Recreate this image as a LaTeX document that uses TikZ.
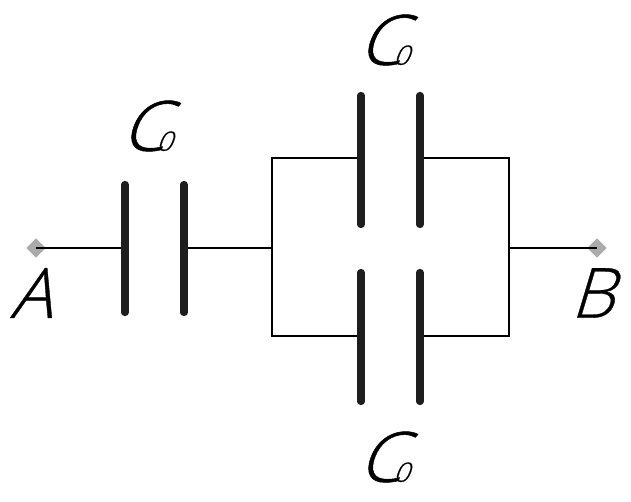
\documentclass[tikz,border=0pt]{standalone}
\usepackage{fontspec}
\usetikzlibrary{shapes.geometric}
\newfontfamily\lblfont[FakeSlant=0.3,FakeBold=0.5]{Open Sans Light}
\newfontfamily\capfont[FakeSlant=0.38,FakeStretch=1.05,FakeBold=0.7]{Open Sans Light}
\definecolor{plategray}{HTML}{1E1E1E}
\definecolor{termgray}{HTML}{ABABAB}
\tikzset{
  x=0.75pt,y=-0.75pt,
  wire/.style={line width=1.5pt,black},
  plate/.style={line width=5.4pt,plategray,line cap=round},
  terminal/.style={diamond,aspect=1,fill=termgray,draw=none,minimum width=14.5pt,minimum height=14.5pt,inner sep=0pt},
  letter/.style={inner sep=0pt,font=\lblfont\fontsize{52pt}{52pt}\selectfont},
  caplabel/.style={inner sep=0pt,font=\capfont\fontsize{52pt}{52pt}\selectfont}
}
\newcommand{\capname}{C\kern-7pt{\fontsize{20pt}{20pt}\selectfont 0}}
\begin{document}
\begin{tikzpicture}
\useasboundingbox (0,0) rectangle (631,502);
\fill[white] (0,0) rectangle (631,502);
% terminals
\node[terminal] (A) at (36,248) {};
\node[terminal] (B) at (597,248) {};
% plates
\coordinate (p1t) at (125,184.5); \coordinate (p1b) at (125,312.5);
\coordinate (p2t) at (184,184.5); \coordinate (p2b) at (184,312.5);
\coordinate (u1t) at (361,95.5);  \coordinate (u1b) at (361,224.5);
\coordinate (u2t) at (420,95.5);  \coordinate (u2b) at (420,224.5);
\coordinate (l1t) at (361,272.5); \coordinate (l1b) at (361,401.5);
\coordinate (l2t) at (420,272.5); \coordinate (l2b) at (420,401.5);
% junctions
\coordinate (p1m) at (125,248); \coordinate (p2m) at (184,248);
\coordinate (jl) at (271.5,248); \coordinate (jr) at (509,248);
\coordinate (u1m) at (361,158.5); \coordinate (u2m) at (420,158.5);
\coordinate (l1m) at (361,336); \coordinate (l2m) at (420,336);
% wires
\draw[wire] (A.center) -- (p1m);
\draw[wire] (p2m) -- (jl);
\draw[wire] (jr) -- (B.center);
\draw[wire] (u1m) -| (jl) |- (l1m);
\draw[wire] (u2m) -| (jr) |- (l2m);
% plates
\foreach \a/\b in {p1t/p1b,p2t/p2b,u1t/u1b,u2t/u2b,l1t/l1b,l2t/l2b}
  \draw[plate] (\a) -- (\b);
% labels
\node[letter] (la) at (31,293) {A};
\node[letter] (lb) at (592,293) {B};
\node[caplabel] (c1) at (146,126) {\capname};
\node[caplabel] (c2) at (383,40) {\capname};
\node[caplabel] (c3) at (383,457) {\capname};
\end{tikzpicture}
\end{document}
